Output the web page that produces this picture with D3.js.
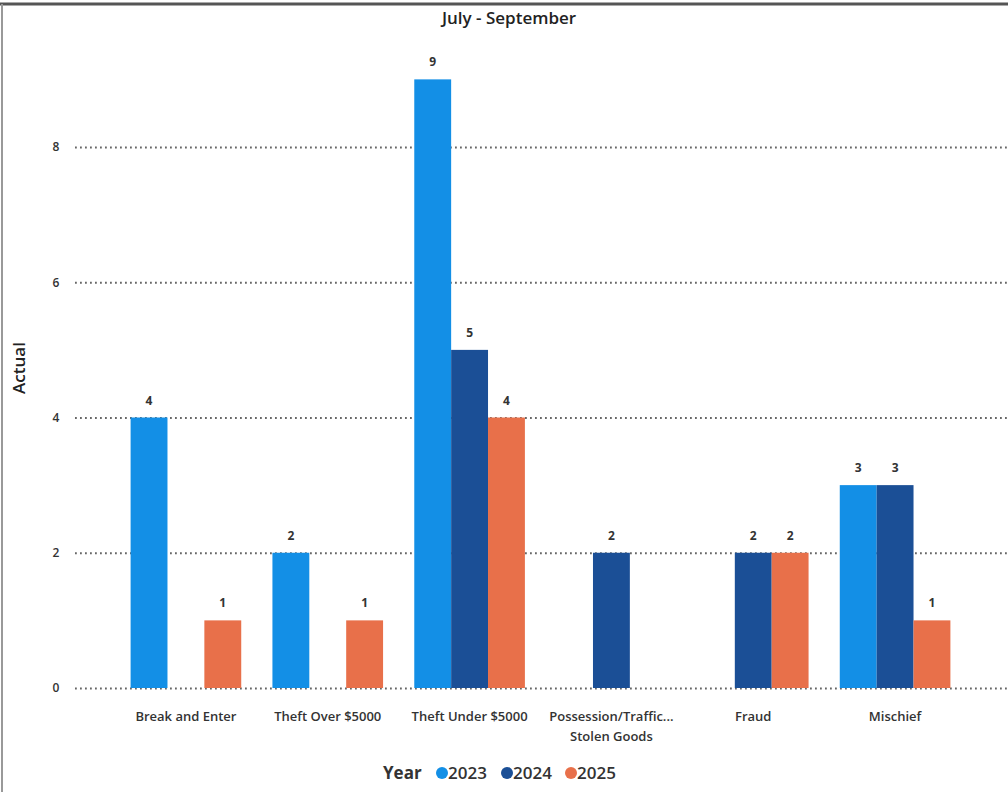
<!DOCTYPE html>
<html>
<head>
<meta charset="utf-8">
<script src="https://cdn.jsdelivr.net/npm/d3@7"></script>
<style>
  html, body { margin: 0; padding: 0; background: #fff; }
  svg { display: block; font-family: "Open Sans", "DejaVu Sans", sans-serif; }
</style>
</head>
<body>
<svg id="chart" width="1008" height="792"></svg>
<script>
// Offence categories and counts per year (July - September)
const categories = ["Break and Enter", "Theft Over $5000", "Theft Under $5000", "Possession/Traffic... Stolen Goods", "Fraud", "Mischief"];
const categoryLines = [["Break and Enter"], ["Theft Over $5000"], ["Theft Under $5000"], ["Possession/Traffic...", "Stolen Goods"], ["Fraud"], ["Mischief"]];
const years = ["2023", "2024", "2025"];
const values2023 = [4, 2, 9, null, null, 3];
const values2024 = [null, null, 5, 2, 2, 3];
const values2025 = [1, 1, 4, null, 2, 1];
const yTicks = [0, 2, 4, 6, 8];
const colors = ["#138fe6", "#1b4f96", "#e8704a"];

const series = [values2023, values2024, values2025];

const svg = d3.select("#chart");
const W = 1008, H = 792;

// frame edges
svg.append("line").attr("x1", 0).attr("x2", W).attr("y1", 4).attr("y2", 4)
  .attr("stroke", "#555").attr("stroke-width", 3);
svg.append("line").attr("x1", 2).attr("x2", 2).attr("y1", 4).attr("y2", H)
  .attr("stroke", "#999").attr("stroke-width", 2);

const margin = { left: 115, right: 42 };
const x0 = d3.scaleBand().domain(categories).range([margin.left, W - margin.right]).paddingInner(0.22).paddingOuter(0.11);
const x1 = d3.scaleBand().domain(years).range([0, x0.bandwidth()]);
const y = d3.scaleLinear().domain([0, 8]).range([688, 147]);

// title
svg.append("text").attr("x", 509).attr("y", 24).attr("text-anchor", "middle")
  .attr("font-size", 17).attr("font-weight", 600).attr("fill", "#222").text("July - September");

// gridlines with tick labels
const yAxis = d3.axisLeft(y).tickValues(yTicks).tickSize(0).tickPadding(0);
const gy = svg.append("g").attr("transform", "translate(75,0)").call(yAxis);
gy.select(".domain").remove();
gy.selectAll(".tick text").attr("x", -19).attr("font-size", 12).attr("font-weight", 600).attr("fill", "#333")
  .attr("font-family", "Open Sans, sans-serif").attr("text-anchor", "middle");
gy.selectAll(".tick").append("line").attr("x1", 0).attr("x2", W - 75)
  .attr("stroke", "#666").attr("stroke-width", 1.8).attr("stroke-dasharray", "1.8,3.2");

// y axis title
svg.append("text").attr("transform", "translate(25,368) rotate(-90)").attr("text-anchor", "middle")
  .attr("font-size", 17).attr("font-weight", 600).attr("fill", "#222").text("Actual");

// bars
const groups = svg.append("g").selectAll("g").data(categories).join("g")
  .attr("transform", d => `translate(${x0(d)},0)`);

groups.each(function(cat, ci) {
  const g = d3.select(this);
  years.forEach((yr, si) => {
    const v = series[si][ci];
    if (v == null) return;
    g.append("rect").attr("x", x1(yr)).attr("width", x1.bandwidth())
      .attr("y", y(v)).attr("height", y(0) - y(v)).attr("fill", colors[si]);
    g.append("text").attr("x", x1(yr) + x1.bandwidth() / 2).attr("y", y(v) - 13)
      .attr("text-anchor", "middle").attr("font-size", 12).attr("font-weight", 700)
      .attr("fill", "#333").text(v);
  });
});

// category labels
categories.forEach((cat, ci) => {
  const cx = x0(cat) + x0.bandwidth() / 2;
  const t = svg.append("text").attr("x", cx).attr("y", 721)
    .attr("text-anchor", "middle").attr("font-size", 13).attr("font-weight", 600).attr("fill", "#333");
  categoryLines[ci].forEach((line, li) => {
    t.append("tspan").attr("x", cx).attr("dy", li === 0 ? 0 : 20).text(line);
  });
});

// legend
const lg = svg.append("g").attr("transform", "translate(383,779)");
lg.append("text").attr("x", 0).attr("y", 0).attr("font-size", 17).attr("font-weight", 700)
  .attr("fill", "#333").text("Year");
const legendX = [59, 124, 188];
years.forEach((yr, i) => {
  lg.append("circle").attr("cx", legendX[i]).attr("cy", -6).attr("r", 6).attr("fill", colors[i]);
  lg.append("text").attr("x", legendX[i] + 6).attr("y", 0).attr("font-size", 17).attr("font-weight", 600)
    .attr("fill", "#333").text(yr);
});
</script>
</body>
</html>
